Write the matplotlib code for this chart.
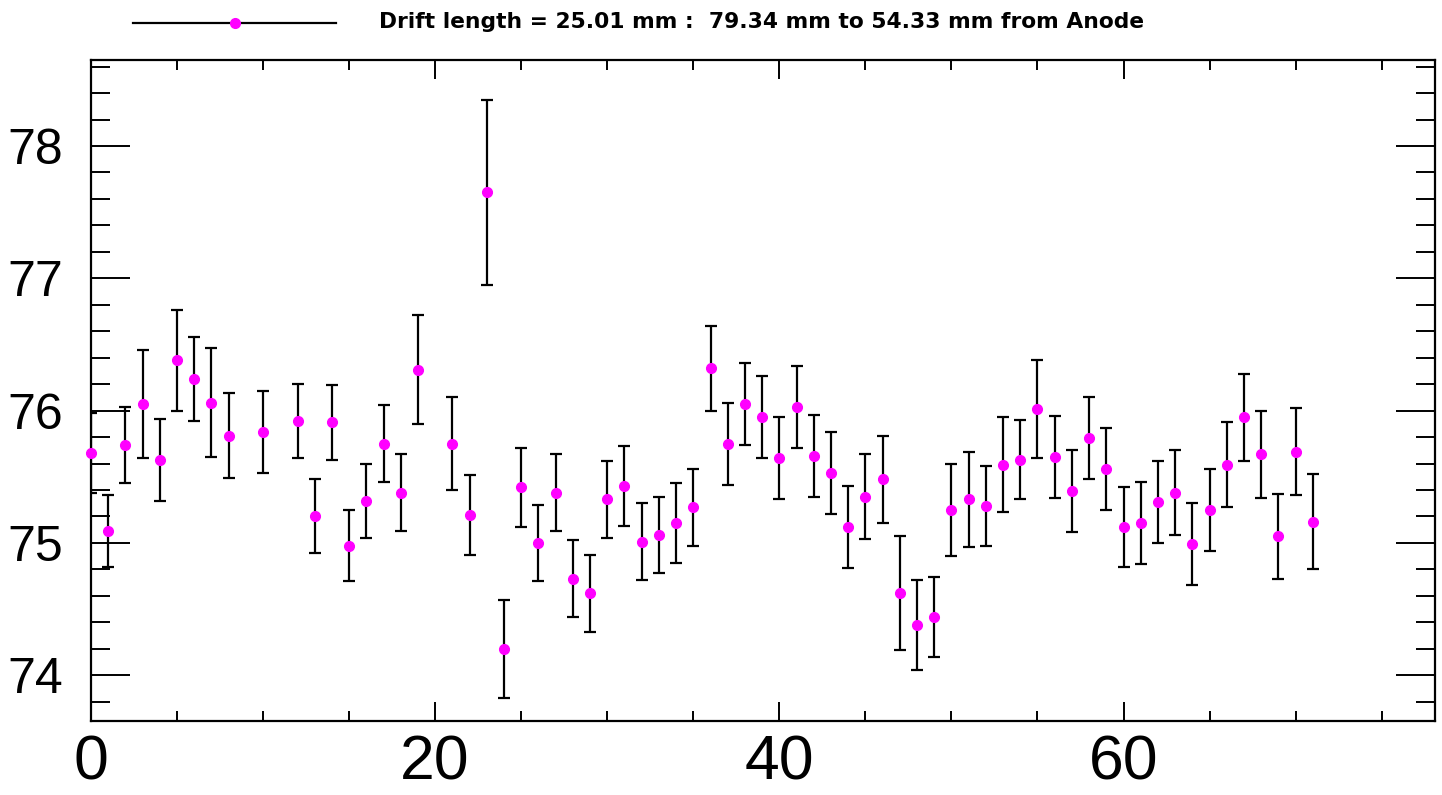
import matplotlib
matplotlib.use("Agg")
import matplotlib.pyplot as plt
from matplotlib.lines import Line2D
from matplotlib.ticker import MultipleLocator

plt.rcParams['font.family'] = ['Liberation Sans', 'DejaVu Sans']

# channel index (9, 11 and 20 have no entry)
channel = [0, 1, 2, 3, 4, 5, 6, 7, 8, 10, 12, 13, 14, 15, 16, 17, 18, 19,
           21, 22, 23, 24, 25, 26, 27, 28, 29, 30, 31, 32, 33, 34, 35, 36,
           37, 38, 39, 40, 41, 42, 43, 44, 45, 46, 47, 48, 49, 50, 51, 52,
           53, 54, 55, 56, 57, 58, 59, 60, 61, 62, 63, 64, 65, 66, 67, 68,
           69, 70, 71]
value = [75.68, 75.09, 75.74, 76.05, 75.63, 76.38, 76.24, 76.06, 75.81, 75.84,
         75.92, 75.20, 75.91, 74.98, 75.32, 75.75, 75.38, 76.31,
         75.75, 75.21, 77.65, 74.20, 75.42, 75.00, 75.38, 74.73, 74.62, 75.33,
         75.43, 75.01, 75.06, 75.15, 75.27, 76.32,
         75.75, 76.05, 75.95, 75.64, 76.03, 75.66, 75.53, 75.12, 75.35, 75.48,
         74.62, 74.38, 74.44, 75.25, 75.33, 75.28,
         75.59, 75.63, 76.01, 75.65, 75.39, 75.79, 75.56, 75.12, 75.15, 75.31,
         75.38, 74.99, 75.25, 75.59, 75.95, 75.67,
         75.05, 75.69, 75.16]
error = [0.30, 0.27, 0.29, 0.41, 0.31, 0.38, 0.32, 0.41, 0.32, 0.31,
         0.28, 0.28, 0.28, 0.27, 0.28, 0.29, 0.29, 0.41,
         0.35, 0.30, 0.70, 0.37, 0.30, 0.29, 0.29, 0.29, 0.29, 0.29,
         0.30, 0.29, 0.29, 0.30, 0.29, 0.32,
         0.31, 0.31, 0.31, 0.31, 0.31, 0.31, 0.31, 0.31, 0.32, 0.33,
         0.43, 0.34, 0.30, 0.35, 0.36, 0.30,
         0.36, 0.30, 0.37, 0.31, 0.31, 0.31, 0.31, 0.30, 0.31, 0.31,
         0.32, 0.31, 0.31, 0.32, 0.33, 0.33,
         0.32, 0.33, 0.36]

legend_text = "Drift length = 25.01 mm :  79.34 mm to 54.33 mm from Anode"

fig = plt.figure(figsize=(14.42, 7.95), dpi=100)
ax = fig.add_axes([91/1442, 1 - 720.7/795, (1435 - 91)/1442, (720.7 - 60)/795])

ax.errorbar(channel, value, yerr=error, fmt='none', ecolor='black',
            elinewidth=1.6, capsize=4.2, capthick=1.6)
ax.plot(channel, value, 'o', color='magenta', markersize=7, clip_on=False, zorder=5)

ax.set_xlim(0, 78.1)
ax.set_ylim(73.656, 78.65)

ax.xaxis.set_major_locator(MultipleLocator(20))
ax.xaxis.set_minor_locator(MultipleLocator(5))
ax.yaxis.set_major_locator(MultipleLocator(1))
ax.yaxis.set_minor_locator(MultipleLocator(0.2))

ax.tick_params(axis='x', which='major', direction='in', top=True, length=14,
               width=1.4, labelsize=45, pad=9)
ax.tick_params(axis='x', which='minor', direction='in', top=True, length=7, width=1.4)
ax.tick_params(axis='y', which='major', direction='in', right=True, length=28,
               width=1.4, labelsize=36, pad=20)
ax.tick_params(axis='y', which='minor', direction='in', right=True, length=14, width=1.4)
for s in ax.spines.values():
    s.set_linewidth(1.6)

# legend drawn in figure coordinates
fig.add_artist(Line2D([133/1442, 336/1442], [1 - 23/795, 1 - 23/795],
                      color='black', lw=1.6))
fig.add_artist(Line2D([235/1442], [1 - 23/795], marker='o', color='magenta',
                      markersize=7, linestyle='none'))
fig.text(379/1442, 1 - 22/795, legend_text, fontsize=15.7, fontweight='bold',
         family=['DejaVu Sans'], ha='left', va='center')

fig.savefig("out.png", dpi=100)
